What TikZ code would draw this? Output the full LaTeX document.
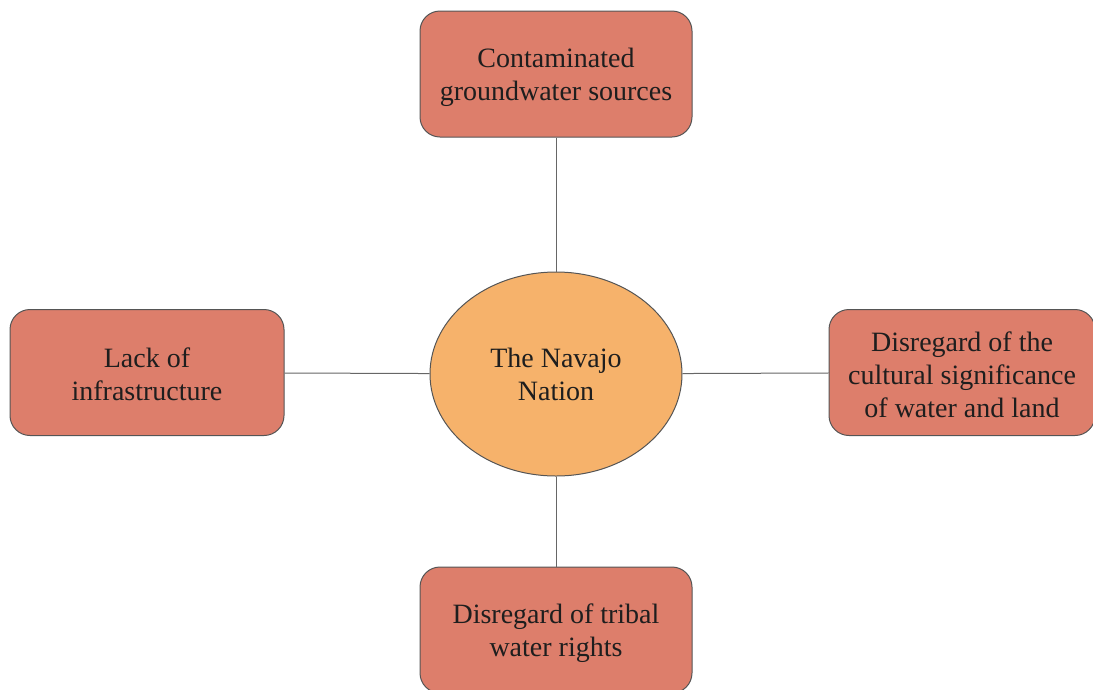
\documentclass[tikz,border=0pt]{standalone}
\usepackage{fontspec}
\newfontfamily\tnr{Liberation Serif}
\usetikzlibrary{shapes.geometric}
\definecolor{boxred}{HTML}{DD7E6B}
\definecolor{ellorange}{HTML}{F6B26B}
\definecolor{edgegray}{HTML}{555555}
\definecolor{linegray}{HTML}{666666}
\definecolor{txt}{HTML}{1E1E1E}
\newcommand\nodetext[2][3pt]{\raisebox{-#1}[\height][\depth]{\begin{tabular}{@{}c@{}}#2\end{tabular}}}
\begin{document}
\begin{tikzpicture}[x=1pt,y=-1pt,
  issue/.style={draw=edgegray, line width=1pt, fill=boxred, rounded corners=20pt,
    minimum width=272pt, minimum height=126pt, inner sep=0pt,
    font=\tnr\fontsize{28}{33}\selectfont, text=txt},
  center/.style={draw=edgegray, line width=1pt, fill=ellorange, ellipse,
    minimum width=252pt, minimum height=204pt, inner sep=0pt,
    font=\tnr\fontsize{28}{33}\selectfont, text=txt},
  link/.style={draw=linegray, line width=1pt}]
\useasboundingbox (0,0) rectangle (1093,689);
\node[center] (nav) at (556,374) {\nodetext{The Navajo\\Nation}};
\node[issue] (top) at (556,74) {\nodetext{Contaminated\\groundwater sources}};
\node[issue, minimum width=274pt] (left) at (147,372.5) {\nodetext[5pt]{Lack of\\infrastructure}};
\node[issue, minimum width=266pt] (right) at (962,372.5) {\nodetext[5pt]{Disregard of the\\cultural significance\\of water and land}};
\node[issue] (bot) at (556,630) {\nodetext{Disregard of tribal\\water rights}};
\draw[link] (top) -- (nav);
\draw[link] (bot) -- (nav);
\draw[link] (left) -- (nav);
\draw[link] (right) -- (nav);
\end{tikzpicture}
\end{document}
